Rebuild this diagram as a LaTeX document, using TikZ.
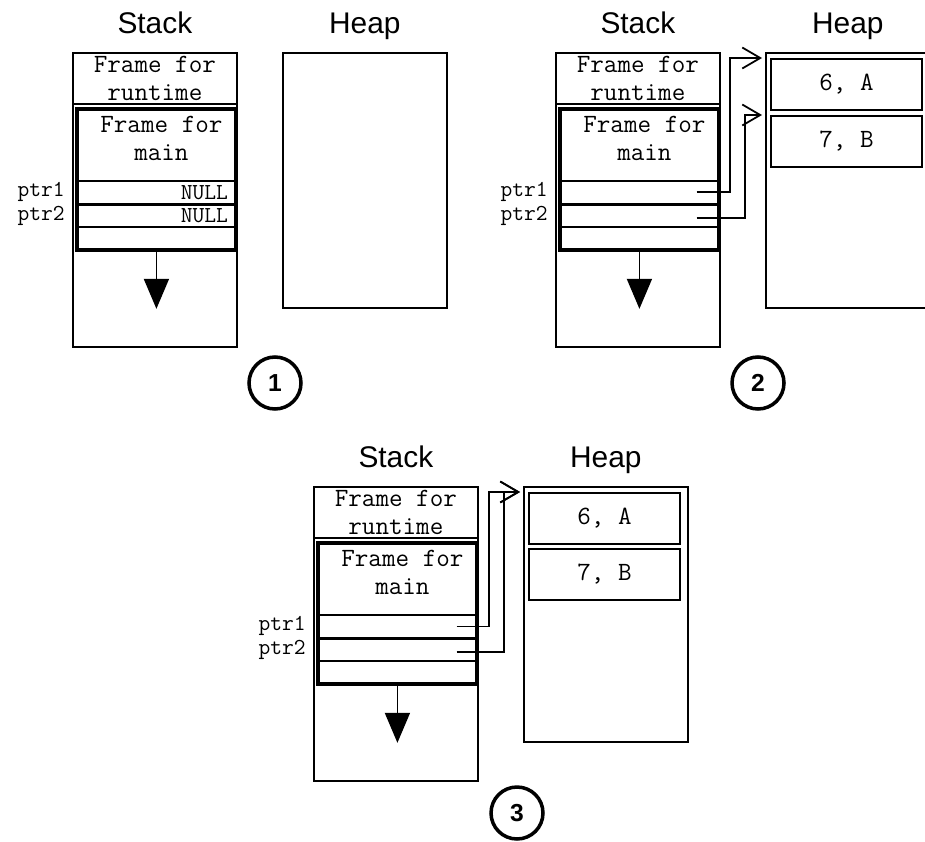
\documentclass[tikz,border=0pt]{standalone}
\usepackage{fontspec}
\setmainfont{Liberation Sans}
\usepackage{tikz}
\usetikzlibrary{arrows.meta}
\usetikzlibrary{positioning}

% stack column + empty heap for one snapshot
% #1 name prefix, #2 ptr1 value, #3 ptr2 value
\newcommand{\memstate}[3]{%
  \node[box, minimum height=5.88cm] (#1-stack) at (0,0) {};
  \node[box, frametext, minimum height=1.02cm] (#1-rt) at (0,0) {Frame for\\runtime};
  \node[row] (#1-p1) at (3,128) {#2};
  \node[row, minimum height=0.44cm] (#1-p2) at (3,152) {#3};
  \node[row, minimum height=0.44cm] (#1-free) at (3,174) {};
  \node[mainframe] (#1-main) at (3,55) {};
  \node[frametext, below=0.17cm of #1-main.north, xshift=0.1cm] (#1-mt) {Frame for\\main};
  \draw[growarrow] (#1-main.south) -- ++(0,57);
  \node[box, minimum height=5.1cm] (#1-heap) at (210,0) {};
  \node[title, above=0.36cm of #1-stack] (#1-st) {Stack};
  \node[title, anchor=base] (#1-ht) at (#1-heap.north |- #1-st.base) {Heap};
  \node[ptrname, left=0.2cm of #1-p1] (#1-n1) {ptr1};
  \node[ptrname, left=0.2cm of #1-p2] (#1-n2) {ptr2};
}

\begin{document}
\begin{tikzpicture}[x=0.02cm, y=-0.02cm,
    box/.style={draw, line width=1pt, anchor=north west, minimum width=3.28cm, inner sep=0},
    frametext/.style={font=\ttfamily\fontsize{15}{16}\selectfont, align=center, inner sep=0},
    row/.style={draw, line width=1pt, anchor=north west, minimum height=0.46cm,
      text width=2.9cm, align=right, inner xsep=0.14cm, inner ysep=0,
      font=\ttfamily\fontsize{13}{14}\selectfont},
    mainframe/.style={draw, line width=2.2pt, anchor=north west, minimum width=3.18cm,
      minimum height=2.82cm, inner sep=0},
    cell/.style={draw, line width=1.2pt, anchor=north west, minimum width=3.02cm,
      minimum height=1.02cm, inner sep=0, font=\ttfamily\fontsize{15}{16}\selectfont},
    title/.style={font=\fontsize{17}{20}\selectfont, inner sep=0},
    ptrname/.style={font=\ttfamily\fontsize{13}{14}\selectfont, inner sep=0},
    badge/.style={draw, circle, line width=2pt, minimum size=1.04cm, inner sep=0,
      font=\bfseries\fontsize{14}{17}\selectfont},
    growarrow/.style={line width=1pt, -{Triangle[length=0.6cm,width=0.5cm]}},
    ptrline/.style={line width=1pt, -{Straight Barb[length=0.36cm,width=0.42cm]}, shorten >=0.06cm}]
  \useasboundingbox (0,0) rectangle (925,841);

  \begin{scope}[shift={(72,52)}]
    \memstate{a}{NULL}{NULL}
    \node[badge] (a-num) at (203,331) {1};
  \end{scope}

  \begin{scope}[shift={(555,52)}]
    \memstate{b}{}{}
    \node[cell] (b-6a) at (215,6) {6, A};
    \node[cell] (b-7b) at (215,63) {7, B};
    \coordinate (b-s1) at ([xshift=-0.44cm]b-p1.east);
    \coordinate (b-s2) at ([xshift=-0.44cm,yshift=-0.04cm]b-p2.east);
    \draw[ptrline] (b-s1) -- ++(33,0) |- (b-heap.west |- b-6a.north);
    \draw[ptrline] (b-s2) -- ++(48,0) |- (b-heap.west |- b-7b.north);
    \node[badge] (b-num) at (203,331) {2};
  \end{scope}

  \begin{scope}[shift={(313,486)}]
    \memstate{c}{}{}
    \node[cell] (c-6a) at (215,6) {6, A};
    \node[cell] (c-7b) at (215,62) {7, B};
    \coordinate (c-s1) at ([xshift=-0.4cm]c-p1.east);
    \coordinate (c-s2) at ([xshift=-0.4cm,yshift=-0.04cm]c-p2.east);
    \draw[ptrline] (c-s1) -- ++(32,0) |- (c-heap.west |- c-6a.north);
    \draw[ptrline] (c-s2) -- ++(47,0) |- (c-heap.west |- c-6a.north);
    \node[badge] (c-num) at (204,327) {3};
  \end{scope}
\end{tikzpicture}
\end{document}
